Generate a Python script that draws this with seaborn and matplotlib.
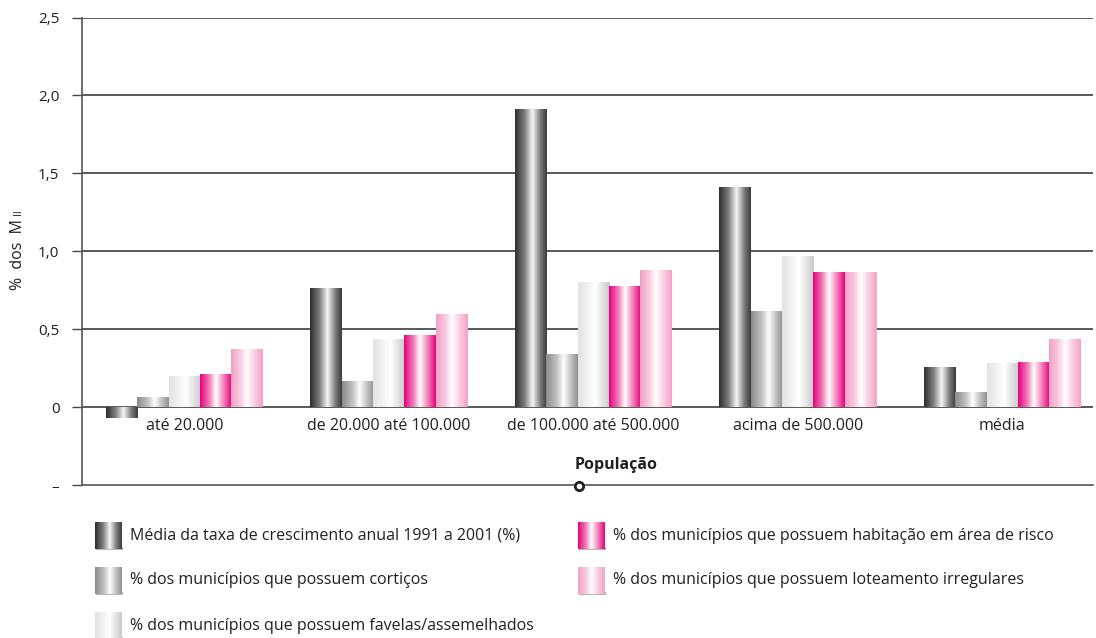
import numpy as np
import pandas as pd
import seaborn as sns
import matplotlib
matplotlib.use("Agg")
import matplotlib.pyplot as plt
from matplotlib.colors import LinearSegmentedColormap, to_rgba
from matplotlib.patches import Rectangle

# ---------------- data ----------------
categories = ["até 20.000", "de 20.000 até 100.000", "de 100.000 até 500.000",
              "acima de 500.000", "média"]
series = [
    "Média da taxa de crescimento anual 1991 a 2001 (%)",
    "% dos municípios que possuem cortiços",
    "% dos municípios que possuem favelas/assemelhados",
    "% dos municípios que possuem habitação em área de risco",
    "% dos municípios que possuem loteamento irregulares",
]
taxa = [-0.067, 0.765, 1.91, 1.41, 0.256]
corticos = [0.066, 0.165, 0.34, 0.617, 0.10]
favelas = [0.20, 0.436, 0.80, 0.971, 0.28]
risco = [0.21, 0.462, 0.776, 0.867, 0.288]
loteamento = [0.37, 0.597, 0.88, 0.867, 0.437]
yticks = [-0.5, 0, 0.5, 1.0, 1.5, 2.0, 2.5]
ytick_labels = ["–", "0", "0,5", "1,0", "1,5", "2,0", "2,5"]
xlabel = "População"
ylabel_main = "%  dos  M"
ylabel_sub = "II"

values = [taxa, corticos, favelas, risco, loteamento]
rows = []
for s, vals in zip(series, values):
    for c, v in zip(categories, vals):
        rows.append({"categoria": c, "serie": s, "valor": v})
df = pd.DataFrame(rows)

base_colors = ["#555555", "#aaaaaa", "#e8e8e8", "#e8158a", "#f5a9cb"]
grad_stops = [
    [(0, "#2c2c2c"), (0.3, "#7e7e7e"), (0.55, "#f6f6f6"), (0.8, "#7a7a7a"), (1, "#3a3a3a")],
    [(0, "#8a8a8a"), (0.35, "#c4c4c4"), (0.55, "#ffffff"), (0.8, "#bdbdbd"), (1, "#909090")],
    [(0, "#e2e2e2"), (0.55, "#ffffff"), (0.8, "#e0e0e0"), (1, "#c9c9cc")],
    [(0, "#e5007d"), (0.3, "#f27fb8"), (0.5, "#ffffff"), (0.75, "#f27fb8"), (1, "#e5007d")],
    [(0, "#f3a0c5"), (0.3, "#f8cce0"), (0.5, "#ffffff"), (0.75, "#f8cce0"), (1, "#f2a1c6")],
]
cmaps = [LinearSegmentedColormap.from_list(f"g{i}", st) for i, st in enumerate(grad_stops)]
grad = np.linspace(0, 1, 256)[None, :]

FS = 11.5
TXT = "#231f20"

# ---------------- figure ----------------
sns.set_theme(style="white")
plt.rcParams["font.family"] = ["Open Sans", "DejaVu Sans"]
fig = plt.figure(figsize=(10.96, 6.38), dpi=100)
W, H = 1096, 638
ax_left, ax_right, ax_top, ax_bottom = 82, 1093, 17.5, 485
ax = fig.add_axes([ax_left / W, 1 - ax_bottom / H, (ax_right - ax_left) / W,
                   (ax_bottom - ax_top) / H])

sns.barplot(data=df, x="categoria", y="valor", hue="serie", order=categories,
            hue_order=series, palette=base_colors, width=0.77, saturation=1,
            legend=False, ax=ax, linewidth=0, errorbar=None)

# cylindrical gradients on bars
for bar in list(ax.patches):
    fc = bar.get_facecolor()
    idx = None
    for i, bc in enumerate(base_colors):
        if np.allclose(fc[:3], to_rgba(bc)[:3], atol=0.01):
            idx = i
    if idx is None:
        continue
    x0, w = bar.get_x(), bar.get_width()
    y0, h = bar.get_y(), bar.get_height()
    im = ax.imshow(grad, cmap=cmaps[idx], extent=[x0, x0 + w, min(y0, y0 + h), max(y0, y0 + h)],
                   aspect="auto", interpolation="bilinear", zorder=2.5)
    im.set_clip_path(bar)

ax.set_xlim(-0.5, -0.5 + (ax_right - ax_left) / 204.5)
ax.set_ylim(-0.5, 2.5)
ax.set_yticks(yticks)
ax.set_yticklabels(ytick_labels, fontsize=11, color=TXT)
ax.tick_params(axis="y", length=7.2, width=1, color="#444444", pad=9, left=True)
ax.set_xticks([])
ax.set_xlabel("")
ax.set_ylabel("")
ax.set_axisbelow(True)
for y in yticks[1:]:
    ax.axhline(y, color="#2b2b2b", lw=1.1, zorder=0.5)
for sp in ["top", "right"]:
    ax.spines[sp].set_visible(False)
ax.spines["left"].set_color("#555555")
ax.spines["left"].set_linewidth(1.2)
ax.spines["bottom"].set_color("#555555")
ax.spines["bottom"].set_linewidth(1.2)

for i, c in enumerate(categories):
    ax.annotate(c, xy=(i, 0), xytext=(0, -8), textcoords="offset points",
                ha="center", va="top", fontsize=FS, color=TXT)

# overlay for texts and legend
ov = fig.add_axes([0, 0, 1, 1], zorder=5)
ov.set_xlim(0, W)
ov.set_ylim(H, 0)
ov.axis("off")
ov.patch.set_alpha(0)

yl = ov.text(18, 290, ylabel_main, rotation=90, ha="center", va="bottom",
             fontsize=FS, color=TXT)
ov.text(575, 465, xlabel, ha="left", va="center", fontsize=FS, fontweight="bold", color=TXT)
ov.plot([579], [486], marker="o", ms=6, mfc="white", mec=TXT, mew=2)

legend_pos = [(95, 0), (95, 1), (95, 2), (578, 0), (578, 1)]
for i, (lx, r) in enumerate(legend_pos):
    top = 522 + r * 45
    ov.add_patch(Rectangle((lx + 1, top + 25), 27, 3, color="#b5b5b5", lw=0, zorder=1))
    ov.imshow(grad, cmap=cmaps[i], extent=[lx, lx + 27, top + 27, top],
              aspect="auto", interpolation="bilinear", zorder=2)
    ov.text(lx + 35, top + 13.5, series[i], ha="left", va="center", fontsize=FS, color=TXT,
            zorder=3)
ov.set_xlim(0, W)
ov.set_ylim(H, 0)

# small "II" after the rotated y label
fig.canvas.draw()
bb = yl.get_window_extent(fig.canvas.get_renderer())
top_px = H - bb.y1  # convert to overlay data coords (y inverted)
ov.text(19, top_px - 4, ylabel_sub, rotation=90, ha="center", va="bottom",
        fontsize=7.5, color=TXT)

fig.savefig("out.png", dpi=100)
